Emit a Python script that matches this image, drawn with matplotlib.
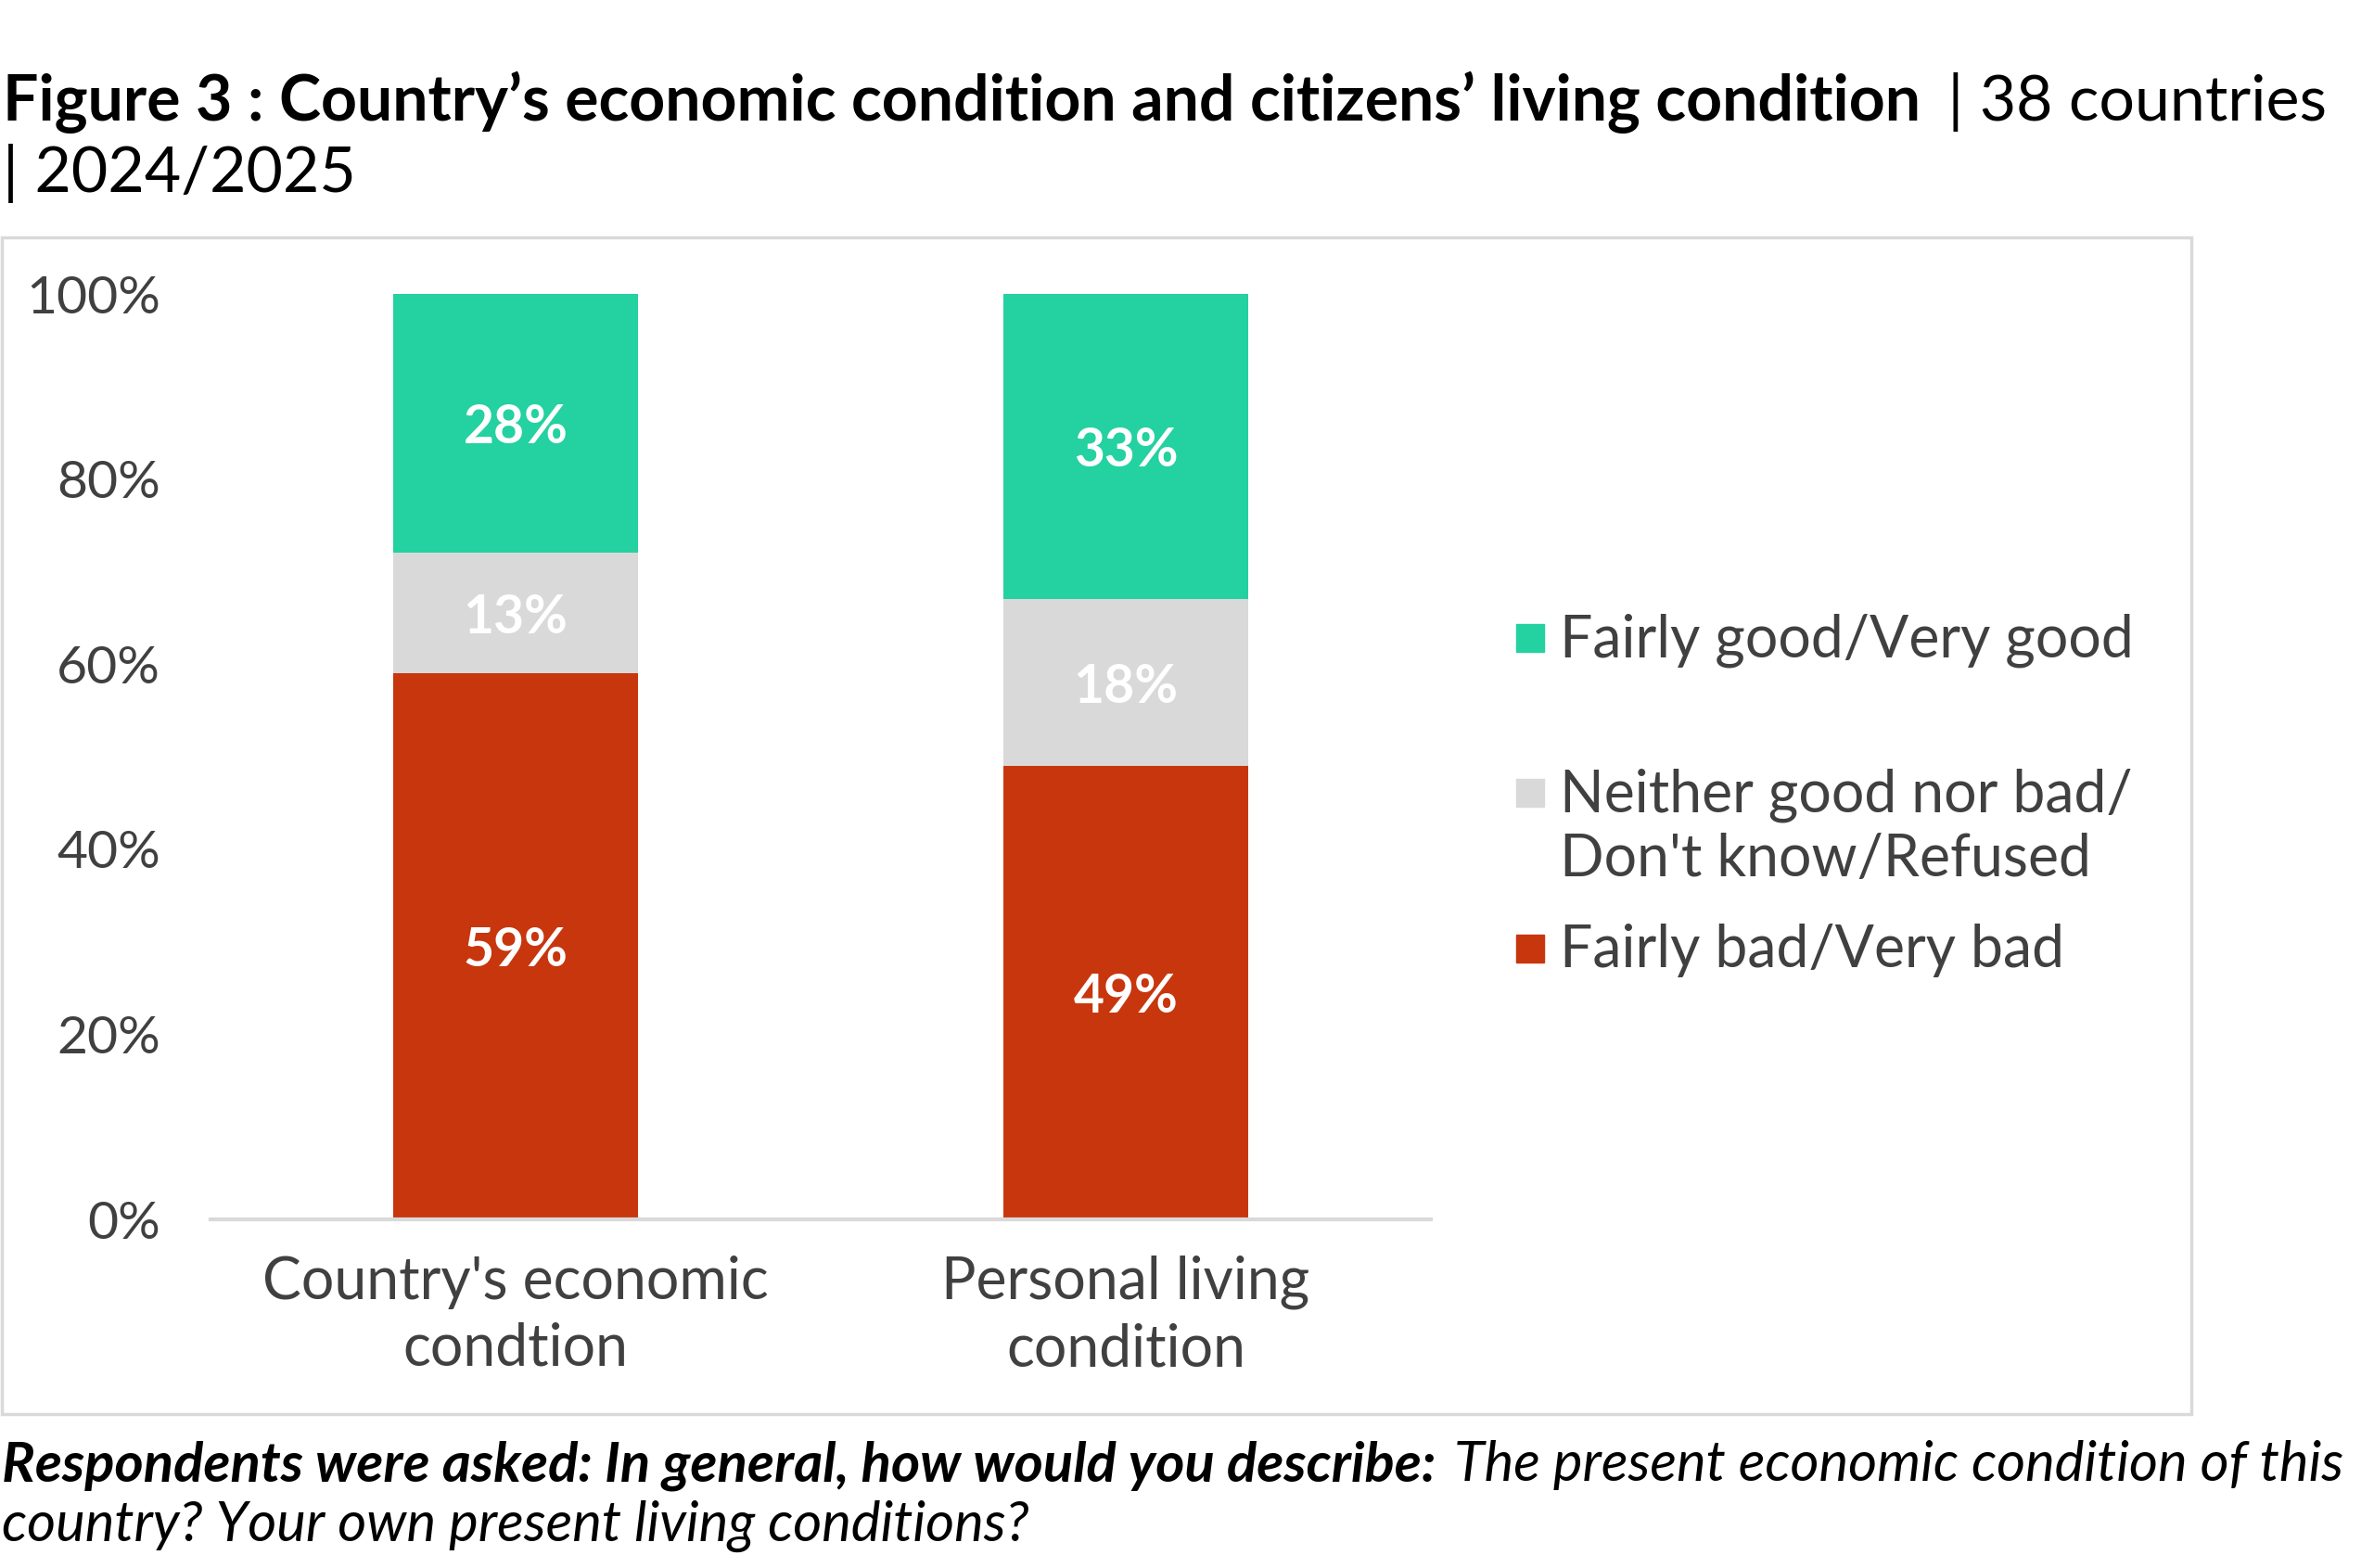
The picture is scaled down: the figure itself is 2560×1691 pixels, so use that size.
import matplotlib
matplotlib.use("Agg")
import matplotlib.pyplot as plt
from matplotlib.patches import Rectangle

# Data
categories = ["Country's economic\ncondtion", "Personal living\ncondition"]
series_names = ["Fairly bad/Very bad",
                "Neither good nor bad/\nDon't know/Refused",
                "Fairly good/Very good"]
bad = [59, 49]
neutral = [13, 18]
good = [28, 33]
y_ticks = [0, 20, 40, 60, 80, 100]

COLORS = ["#C8360E", "#D9D9D9", "#24D1A0"]
TXT = "#404040"
FONT = "Lato"

W, H = 2560, 1691
plt.rcParams['font.family'] = [FONT, 'DejaVu Sans']

fig = plt.figure(figsize=(W / 100, H / 100), dpi=100)


def fy(py):
    return 1 - py / H


def fx(px):
    return px / W


# outer chart frame
fig.patches.append(Rectangle((fx(2), fy(1525)), fx(2363) - fx(2), fy(256) - fy(1525),
                             transform=fig.transFigure, fill=False,
                             edgecolor="#D9D9D9", lw=2.5, zorder=0))

ax = fig.add_axes([fx(227), fy(1315), fx(1543) - fx(227), fy(317) - fy(1315)])

x = range(len(categories))
bottoms = [0, 0]
for vals, col in zip([bad, neutral, good], COLORS):
    bars = ax.bar(x, vals, width=0.4, bottom=bottoms, color=col, zorder=2)
    labs = ax.bar_label(bars, labels=[f"{v}%" for v in vals], label_type="center",
                        color="white", fontsize=41, fontweight="bold")
    for t in labs:
        t.set_va("center_baseline")
    bottoms = [b + v for b, v in zip(bottoms, vals)]

ax.set_xlim(-0.5, 1.5)
ax.set_ylim(0, 100)
ax.set_yticks(y_ticks)
ax.set_yticklabels([f"{t}%" for t in y_ticks])
ax.set_xticks(list(x))
ax.set_xticklabels(categories, linespacing=1.3)
ax.tick_params(axis="y", length=0, pad=39, labelsize=41, labelcolor=TXT)
ax.tick_params(axis="x", length=0, pad=28, labelsize=45, labelcolor=TXT)
for s in ["top", "right", "left"]:
    ax.spines[s].set_visible(False)
ax.spines["bottom"].set_color("#D9D9D9")
ax.spines["bottom"].set_linewidth(3)

# legend, top to bottom (baseline of first line, px from top)
leg_items = [(COLORS[2], series_names[2], 708),
             (COLORS[1], series_names[1], 875),
             (COLORS[0], series_names[0], 1043)]
LINE_PX = 70
for col, label, base in leg_items:
    fig.patches.append(Rectangle((fx(1635), fy(base - 5)), fx(30), fx(30) * W / H,
                                 transform=fig.transFigure, color=col))
    for i, line in enumerate(label.split("\n")):
        fig.text(fx(1682), fy(base + i * LINE_PX), line, fontsize=45, color=TXT,
                 va="baseline", ha="left")

# title
renderer = fig.canvas.get_renderer()
t1 = fig.text(fx(3), fy(130), "Figure 3 : Country\u2019s economic condition and citizens\u2019 living condition",
              fontsize=49, fontweight="bold", color="black", va="baseline")
bb = t1.get_window_extent(renderer)
fig.text(bb.x1 / W + fx(12), fy(130), " | 38 countries", fontsize=49, color="black", va="baseline")
fig.text(fx(3), fy(207), "| 2024/2025", fontsize=49, color="black", va="baseline")

# footer
f1 = fig.text(fx(2), fy(1597), "Respondents were asked: In general, how would you describe:",
              fontsize=43, fontweight="bold", style="italic", color="black", va="baseline")
bb = f1.get_window_extent(renderer)
fig.text(bb.x1 / W + fx(20), fy(1597), "The present economic condition of this",
         fontsize=43, style="italic", color="black", va="baseline")
fig.text(fx(2), fy(1662), "country? Your own present living conditions?",
         fontsize=43, style="italic", color="black", va="baseline")

fig.savefig("out.png", dpi=100, facecolor="white")
